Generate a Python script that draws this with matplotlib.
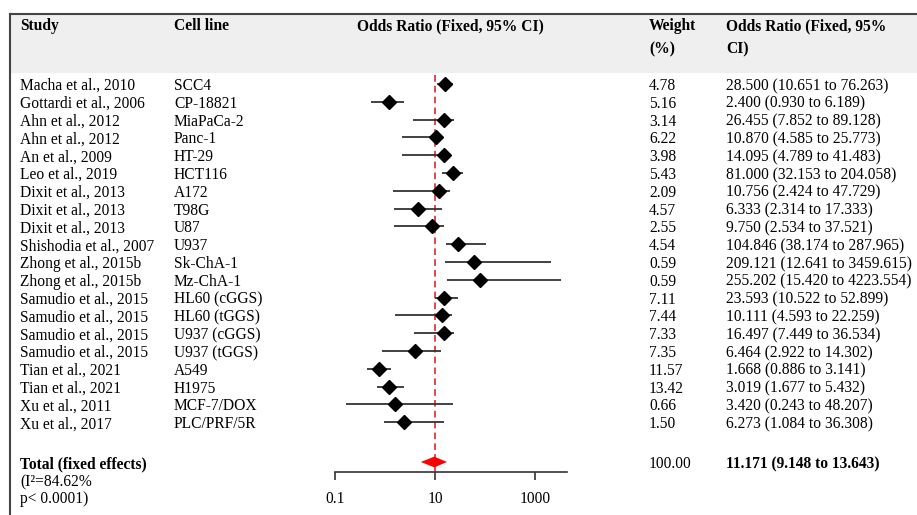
import matplotlib
matplotlib.use("Agg")
import matplotlib.pyplot as plt
import matplotlib.transforms as mtransforms
from matplotlib.patches import Rectangle, Polygon
from matplotlib.lines import Line2D
import numpy as np

plt.rcParams["font.family"] = ["Liberation Serif", "DejaVu Serif"]

# ---- table data ----
studies = ["Macha et al., 2010", "Gottardi et al., 2006", "Ahn et al., 2012", "Ahn et al., 2012",
           "An et al., 2009", "Leo et al., 2019", "Dixit et al., 2013", "Dixit et al., 2013",
           "Dixit et al., 2013", "Shishodia et al., 2007", "Zhong et al., 2015b", "Zhong et al., 2015b",
           "Samudio et al., 2015", "Samudio et al., 2015", "Samudio et al., 2015", "Samudio et al., 2015",
           "Tian et al., 2021", "Tian et al., 2021", "Xu et al., 2011", "Xu et al., 2017"]
cell_lines = ["SCC4", "CP-18821", "MiaPaCa-2", "Panc-1", "HT-29", "HCT116", "A172", "T98G", "U87",
              "U937", "Sk-ChA-1", "Mz-ChA-1", "HL60 (cGGS)", "HL60 (tGGS)", "U937 (cGGS)",
              "U937 (tGGS)", "A549", "H1975", "MCF-7/DOX", "PLC/PRF/5R"]
weights = [4.78, 5.16, 3.14, 6.22, 3.98, 5.43, 2.09, 4.57, 2.55, 4.54, 0.59, 0.59,
           7.11, 7.44, 7.33, 7.35, 11.57, 13.42, 0.66, 1.50]
or_val = [28.500, 2.400, 26.455, 10.870, 14.095, 81.000, 10.756, 6.333, 9.750, 104.846,
          209.121, 255.202, 23.593, 10.111, 16.497, 6.464, 1.668, 3.019, 3.420, 6.273]
or_lo = [10.651, 0.930, 7.852, 4.585, 4.789, 32.153, 2.424, 2.314, 2.534, 38.174,
         12.641, 15.420, 10.522, 4.593, 7.449, 2.922, 0.886, 1.677, 0.243, 1.084]
or_hi = [76.263, 6.189, 89.128, 25.773, 41.483, 204.058, 47.729, 17.333, 37.521, 287.965,
         3459.615, 4223.554, 52.899, 22.259, 36.534, 14.302, 3.141, 5.432, 48.207, 36.308]

# ---- points as drawn in the figure ----
pt_or = [15.8, 1.22, 15.3, 10.6, 15.3, 23.2, 12.2, 4.6, 8.7, 28.8,
         60, 79, 15.1, 13.8, 15.3, 3.93, 0.75, 1.22, 1.56, 2.43]
pt_lo = [11.0, 0.52, 3.6, 2.16, 2.16, 13.8, 1.43, 1.5, 1.5, 16.4,
         15.6, 17.4, 10.0, 1.56, 3.75, 0.86, 0.43, 0.68, 0.164, 0.97]
pt_hi = [22.9, 2.4, 24.0, 14.3, 20.0, 36.3, 20.0, 13.6, 15.3, 105,
         2089, 3311, 29.2, 21.6, 23.7, 13.0, 1.32, 2.43, 22.6, 15.1]
total_pt = [9.7, 5.2, 17.4]
total_weight = 100.00
total_or = [11.171, 9.148, 13.643]
ticks = [0.1, 10, 1000]

W, H = 917, 515
fig = plt.figure(figsize=(W / 100, H / 100), dpi=100)

# header band and frame (behind the axes)
fig.patches.append(Rectangle((10 / W, 1 - 73 / H), 1, 59 / H, transform=fig.transFigure,
                             facecolor="#efefef", edgecolor="none", zorder=-5))
fig.lines.append(Line2D([10 / W, 1], [1 - 14 / H] * 2, transform=fig.transFigure,
                        color="#444", lw=1.5, zorder=-4))
fig.lines.append(Line2D([10 / W] * 2, [1 - 14 / H, 0], transform=fig.transFigure,
                        color="#444", lw=1.5, zorder=-4))

ax = fig.add_axes([0, 0, 1, 1])
ax.set_xscale("log")
# 50 px per decade, 10 at x=435 px
ax.set_xlim(10 ** (1 - 435 / 50), 10 ** (1 + (W - 435) / 50))
row0, step = 84, 17.8
ax.set_ylim((H - row0) / step, -row0 / step)
ax.patch.set_alpha(0)
for s in ["left", "right", "top"]:
    ax.spines[s].set_visible(False)
ax.tick_params(left=False, labelleft=False)

def py(p):
    return (p - row0) / step

tr = mtransforms.blended_transform_factory(fig.transFigure, ax.transData)
fs = 11.2
va = "center_baseline"
cols = [20, 174, 649, 726]
hdr = dict(fontsize=fs, fontweight="bold", va=va, transform=tr)
ax.text(cols[0] / W, py(24), "Study", **hdr)
ax.text(cols[1] / W, py(24), "Cell line", **hdr)
ax.text(357 / W, py(24), "Odds Ratio (Fixed, 95% CI)", **hdr)
ax.text(cols[2] / W, py(24), "Weight", **hdr)
ax.text(cols[2] / W, py(47), "(%)", **hdr)
ax.text(cols[3] / W, py(24), "Odds Ratio (Fixed, 95%", **hdr)
ax.text(cols[3] / W, py(47), "CI)", **hdr)

rows = np.arange(len(studies))
for i in rows:
    ax.text(cols[0] / W, i, studies[i], fontsize=fs, va=va, transform=tr)
    ax.text(cols[1] / W, i, cell_lines[i], fontsize=fs, va=va, transform=tr)
    ax.text(cols[2] / W, i, "%.2f" % weights[i], fontsize=fs, va=va, transform=tr)
    ax.text(cols[3] / W, i, "%.3f (%.3f to %.3f)" % (or_val[i], or_lo[i], or_hi[i]),
            fontsize=fs, va=va, transform=tr)

ax.hlines(rows, pt_lo, pt_hi, color="#333333", lw=1.3, zorder=3)
ax.plot(pt_or, rows, "D", color="black", markersize=7, zorder=4)

y_tot = py(462)
y_axis = py(472)
ax.vlines(10, py(75), y_axis, color="#e0272b", lw=1.2, linestyles=(0, (4, 2.5)), zorder=2)
hh = 0.3
ax.add_patch(Polygon([(total_pt[1], y_tot), (total_pt[0], y_tot - hh), (total_pt[2], y_tot),
                      (total_pt[0], y_tot + hh)], closed=True, facecolor="red", edgecolor="none", zorder=4))

ax.text(cols[0] / W, y_tot, "Total (fixed effects)", fontsize=fs, fontweight="bold", va=va, transform=tr)
ax.text(cols[0] / W, py(480), "(I²=84.62%", fontsize=fs, va=va, transform=tr)
ax.text(cols[0] / W, py(497), "p< 0.0001)", fontsize=fs, va=va, transform=tr)
ax.text(cols[2] / W, y_tot, "%.2f" % total_weight, fontsize=fs, va=va, transform=tr)
ax.text(cols[3] / W, y_tot, "%.3f (%.3f to %.3f)" % tuple(total_or), fontsize=fs,
        fontweight="bold", va=va, transform=tr)

ax.spines["bottom"].set_position(("data", y_axis))
ax.spines["bottom"].set_bounds(0.1, 10 ** (1 + (567 - 435) / 50))
ax.spines["bottom"].set_color("#333333")
ax.spines["bottom"].set_linewidth(1.2)
ax.set_xticks(ticks)
ax.set_xticklabels(["0.1", "10", "1000"])
ax.minorticks_off()
ax.tick_params(axis="x", direction="out", length=6, width=1.2, color="#333333",
               labelsize=fs, pad=8)

fig.savefig("out.png", dpi=100)
